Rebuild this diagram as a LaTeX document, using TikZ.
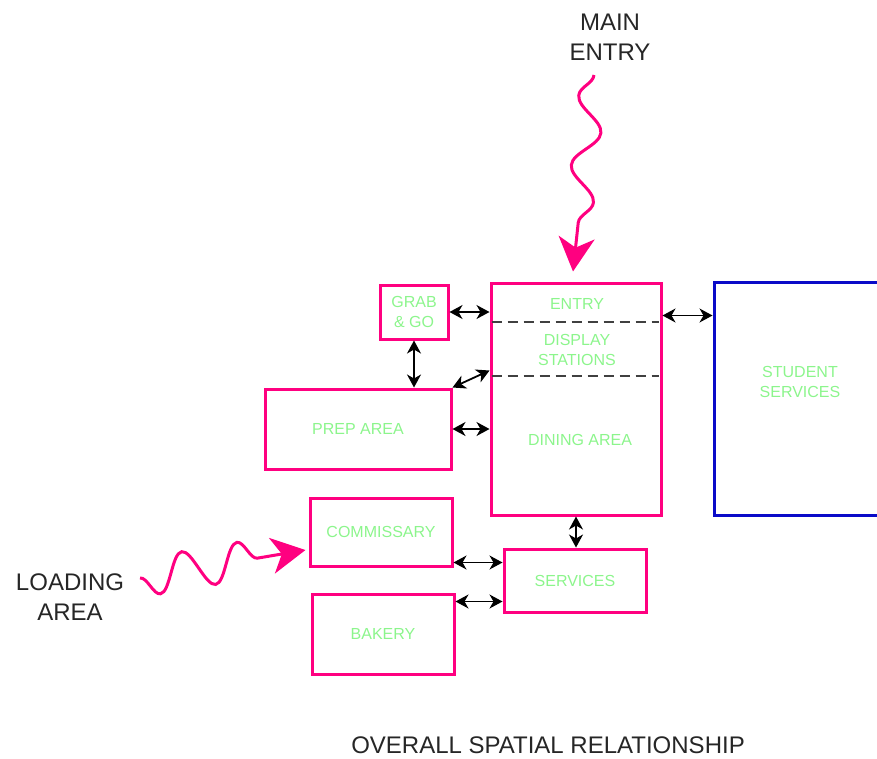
\documentclass[tikz,border=0pt]{standalone}
\usepackage{fontspec}
\setmainfont{Liberation Sans}
\usetikzlibrary{arrows.meta,positioning,decorations.pathmorphing}
\definecolor{zonepink}{RGB}{255,0,128}
\definecolor{zoneblue}{RGB}{10,10,200}
\definecolor{zonegreen}{RGB}{140,245,140}

\begin{document}
\begin{tikzpicture}[
    x=1pt, y=-1pt,
    zone/.style={draw=zonepink, line width=3pt, inner sep=0pt, text=zonegreen, align=center, font=\fontsize{16}{20}\selectfont},
    wing/.style={zone, draw=zoneblue},
    inlabel/.style={text=zonegreen, align=center, inner sep=0pt, font=\fontsize{16}{20}\selectfont},
    callout/.style={text=black!85, align=center, font=\fontsize{24}{30}\selectfont},
    link/.style={{Stealth[length=13pt,width=14pt,inset=4pt]}-{Stealth[length=13pt,width=14pt,inset=4pt]}, line width=1.4pt},
    divider/.style={dash pattern=on 10pt off 6pt, line width=2pt, black!75},
    wave/.style={draw=zonepink, line width=3pt, decorate, decoration={snake, mirror, amplitude=13pt, segment length=70pt, post length=36pt}, -{Stealth[length=34pt,width=36pt,inset=10pt]}}
]
\clip (0,0) rectangle (877,758);

% Zones
\node[zone, minimum width=68pt, minimum height=54pt] (grab) at (414,312) {GRAB\\\& GO};
\node[zone, minimum width=170pt, minimum height=232pt] (dining) at (576,399) {};
\node[zone, minimum width=186pt, minimum height=80pt] (prep) at (358,429) {PREP AREA};
\node[wing, minimum width=172pt, minimum height=233pt] (student) at (800,398.5) {};
\node[zone, minimum width=142pt, minimum height=68pt] (commissary) at (381,532) {COMMISSARY};
\node[zone, minimum width=142pt, minimum height=80pt] (bakery) at (383,634) {BAKERY};
\node[zone, minimum width=142pt, minimum height=63pt] (services) at (575,580.5) {SERVICES};

% Labels inside the big zones
\node[inlabel] (studentlbl) at (800,382) {STUDENT\\SERVICES};
\node[inlabel] (entrylbl) at (577,304) {ENTRY};
\node[inlabel] (displaylbl) at (577,350) {DISPLAY\\STATIONS};
\node[inlabel] (dininglbl) at (580,440) {DINING AREA};

% Dividers in dining zone
\draw[divider] ([xshift=2pt,yshift=-40pt]dining.north west) -- ([xshift=-4pt,yshift=-40pt]dining.north east);
\draw[divider] ([xshift=2pt,yshift=-94pt]dining.north west) -- ([xshift=-4pt,yshift=-94pt]dining.north east);

% Callouts
\node[callout] (mainentry) at (610,37) {MAIN\\ENTRY};
\node[callout] (loading) at (70,597) {LOADING\\AREA};
\node[callout] (title) at (548,745) {OVERALL SPATIAL RELATIONSHIP};

% Entries
\coordinate (mainstart) at (594,75);
\coordinate (loadstart) at (140,578);
\draw[wave] (mainstart) -- ([xshift=-3pt,yshift=10pt]dining.north);
\draw[wave, decoration={amplitude=19pt, segment length=56pt}] (loadstart) -- ([xshift=-3pt,yshift=-18pt]commissary.west);

% Links
\coordinate (diagend) at ([yshift=-89pt]dining.north west);
\coordinate (studentlink) at ([yshift=-34pt]dining.north east);
\coordinate (commlink) at ([yshift=5pt]commissary.south east);
\coordinate (bakelink) at ([yshift=-9pt]bakery.north east);
\draw[link] (grab.east) -- (grab.east -| dining.west);
\draw[link] (grab.south) -- (grab.south |- prep.north);
\draw[link, line width=1.8pt] (prep.north east) -- (diagend);
\draw[link] (prep.east) -- (prep.east -| dining.west);
\draw[link] (studentlink) -- (studentlink -| student.west);
\draw[link] (dining.south) -- (dining.south |- services.north);
\draw[link] (commlink) -- (commlink -| services.west);
\draw[link] (bakelink) -- (bakelink -| services.west);
\end{tikzpicture}
\end{document}
